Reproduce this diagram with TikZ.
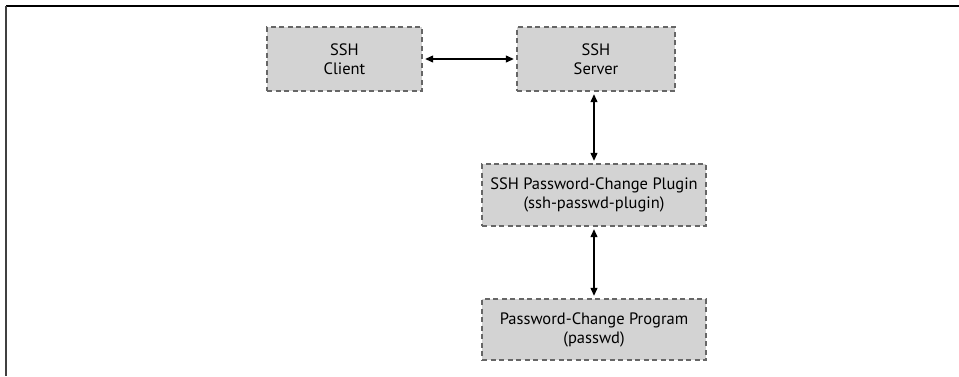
\documentclass[tikz,border=0pt]{standalone}
\usepackage{fontspec}
\setmainfont{PT Sans}
\usetikzlibrary{arrows.meta}
\definecolor{boxfill}{HTML}{D3D3D3}
\definecolor{boxline}{HTML}{666666}
\tikzset{
  box/.style={draw=boxline, fill=boxfill, line width=2.4pt, dash pattern=on 5pt off 3.5pt,
    align=center, inner sep=0pt, font=\fontsize{16.5}{19}\selectfont},
  link/.style={line width=1.2pt, {Triangle[length=8pt,width=7pt]}-{Triangle[length=8pt,width=7pt]}}
}
\begin{document}
\begin{tikzpicture}[x=1pt,y=-1pt]
\useasboundingbox (0,0) rectangle (959,376);
\draw[line width=1.8pt] (6,6) -- (959,6);
\draw[line width=1.8pt, draw=black!75] (6,6) -- (6,376);
\node[box, minimum width=155pt, minimum height=64pt] (client) at (344.5,59) {SSH\\Client};
\node[box, minimum width=158pt, minimum height=64pt] (server) at (596,59) {SSH\\Server};
\node[box, minimum width=224pt, minimum height=62pt] (plugin) at (594,195) {SSH Password-Change Plugin\\(ssh-passwd-plugin)};
\node[box, minimum width=224pt, minimum height=61pt] (prog) at (594,329.5) {Password-Change Program\\(passwd)};
\draw[link] ([xshift=2pt]client.east) -- ([xshift=-2pt]server.west);
\draw[link] ([yshift=-2pt]server.south -| plugin.north) -- ([yshift=2pt]plugin.north);
\draw[link] ([yshift=-2pt]plugin.south) -- ([yshift=2pt]prog.north);
\end{tikzpicture}
\end{document}
